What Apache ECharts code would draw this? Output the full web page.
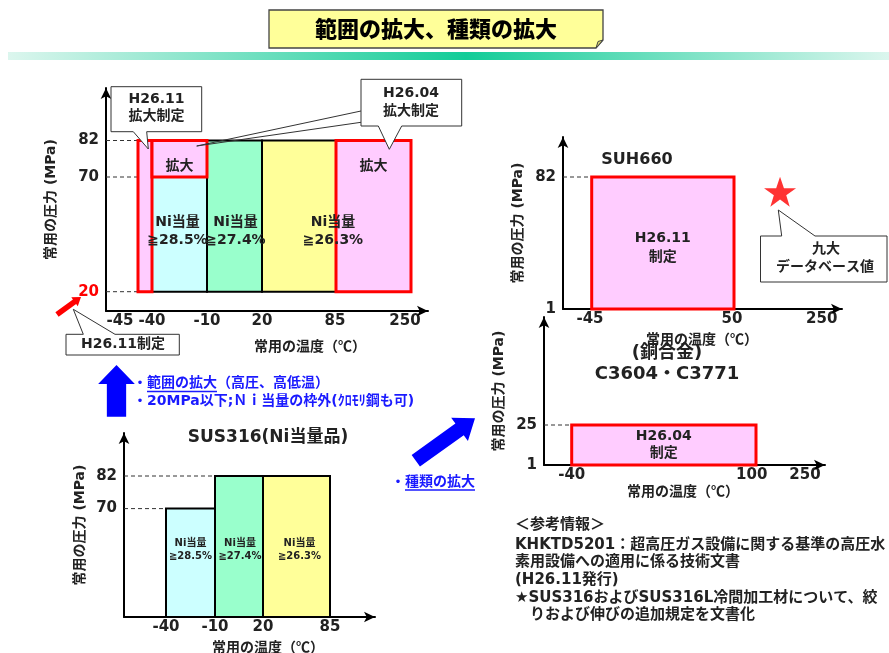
<!DOCTYPE html>
<html><head><meta charset="utf-8">
<script src="https://cdn.jsdelivr.net/npm/echarts@6/dist/echarts.min.js"></script>
<style>html,body{margin:0;padding:0;background:#fff}#c{width:889px;height:653px}</style>
</head><body><div id="c"></div>
<script>
// ================= DATA =================
// Chart A : SUS316 range expansion
const aTempTicks   = [-45, -40, -10, 20, 85, 250];
const aPressTicks  = [20, 70, 82];
const aBoxTempFrom = [-40, -10, 20, -45, -40, 85];
const aBoxTempTo   = [-10, 20, 85, -40, -10, 250];
const aBoxPressFrom= [20, 20, 20, 20, 70, 20];
const aBoxPressTo  = [70, 82, 82, 82, 82, 82];
const aBoxKind     = ['ni1', 'ni2', 'ni3', 'new', 'new', 'new'];
const aBoxLabels   = ['Ni当量\n≧28.5%', 'Ni当量\n≧27.4%', 'Ni当量\n≧26.3%', '', '拡大', '拡大'];
const aGuidePress  = [82, 70, 20];
const aGuideTempTo = [-45, -40, -45];

// Chart B : SUS316 (Ni当量品)
const bTempTicks   = [-40, -10, 20, 85];
const bPressTicks  = [70, 82];
const bBoxTempFrom = [-40, -10, 20];
const bBoxTempTo   = [-10, 20, 85];
const bBoxPressFrom= [0, 0, 0];
const bBoxPressTo  = [70, 82, 82];
const bBoxKind     = ['ni1', 'ni2', 'ni3'];
const bBoxLabels   = ['Ni当量\n≧28.5%', 'Ni当量\n≧27.4%', 'Ni当量\n≧26.3%'];
const bGuidePress  = [82, 70];
const bGuideTempTo = [-10, -40];

// Chart C : SUH660
const cTempTicks   = [-45, 50, 250];
const cPressTicks  = [1, 82];
const cBoxTempFrom = [-45];
const cBoxTempTo   = [50];
const cBoxPressFrom= [1];
const cBoxPressTo  = [82];
const cBoxKind     = ['new'];
const cBoxLabels   = ['H26.11\n制定'];
const cGuidePress  = [82];
const cGuideTempTo = [-45];
const cStarTemp    = [155];
const cStarPress   = [73];

// Chart D : 銅合金 C3604・C3771
const dTempTicks   = [-40, 100, 250];
const dPressTicks  = [1, 25];
const dBoxTempFrom = [-40];
const dBoxTempTo   = [100];
const dBoxPressFrom= [1];
const dBoxPressTo  = [25];
const dBoxKind     = ['new'];
const dBoxLabels   = ['H26.04\n制定'];
const dGuidePress  = [25];
const dGuideTempTo = [-40];

// ================= LAYOUT / STYLE =================
const FONT = "'DejaVu Sans','Noto Sans CJK JP',sans-serif";
const CJK = "'Noto Sans CJK JP','DejaVu Sans',sans-serif";
const TXT = '#222';
const TICK = 15;
const kindStyle = {
  ni1: {fill: '#CCFFFF', stroke: '#000', lw: 2},
  ni2: {fill: '#99FFCC', stroke: '#000', lw: 2},
  ni3: {fill: '#FFFF99', stroke: '#000', lw: 2},
  new: {fill: '#FFCCFF', stroke: '#FF0000', lw: 3}
};
const LAY = {
  A: {grid: {left: 106, top: 88, width: 322, height: 223},
      xVals: aTempTicks, xPos: [32, 46, 101, 156, 230, 305], xLabelPos: [14, 46, 101, 156, 229, 299],
      yVals: aPressTicks, yPos: [19.3, 134, 170.5], yNameGap: 48,
      labelDx: [-2, 1, 34, 0, 0, 0], labelY: [80, 80, 80, null, 145, 145], labelSize: 14, labelLH: 18},
  B: {grid: {left: 124, top: 433, width: 251, height: 184},
      xVals: bTempTicks, xPos: [42, 91, 139, 206], xLabelPos: [42, 91, 139, 206],
      yVals: [0].concat(bPressTicks), yPos: [0, 108.4, 141], yNameGap: 37,
      labelDx: [0, 1, 3], labelY: [67, 67, 67], labelSize: 10, labelLH: 13},
  C: {grid: {left: 563, top: 137, width: 279, height: 172},
      xVals: cTempTicks, xPos: [28.7, 171, 258.7], xLabelPos: [27, 169, 258.7],
      yVals: cPressTicks, yPos: [0, 132], yNameGap: 38,
      labelDx: [0], labelY: [61], labelSize: 14, labelLH: 19},
  D: {grid: {left: 544, top: 317, width: 281, height: 148},
      xVals: dTempTicks, xPos: [27.7, 212, 261], xLabelPos: [27.7, 207.7, 261],
      yVals: dPressTicks, yPos: [0, 40], yNameGap: 37.5,
      labelDx: [0], labelY: [20], labelSize: 14, labelLH: 17}
};

function interp(vals, pos) {
  return function (v) {
    let i = vals.indexOf(v);
    if (i >= 0) return pos[i];
    let k = 0;
    while (k < vals.length - 2 && v > vals[k + 1]) k++;
    if (vals.length < 2) return pos[0];
    return pos[k] + (v - vals[k]) / (vals[k + 1] - vals[k]) * (pos[k + 1] - pos[k]);
  };
}

const chartsDef = [
  {key: 'A', tempTicks: aTempTicks, pressTicks: aPressTicks, from: aBoxTempFrom, to: aBoxTempTo, pf: aBoxPressFrom, pt: aBoxPressTo, kind: aBoxKind, labels: aBoxLabels, gp: aGuidePress, gt: aGuideTempTo, redTicks: [20]},
  {key: 'B', tempTicks: bTempTicks, pressTicks: bPressTicks, from: bBoxTempFrom, to: bBoxTempTo, pf: bBoxPressFrom, pt: bBoxPressTo, kind: bBoxKind, labels: bBoxLabels, gp: bGuidePress, gt: bGuideTempTo, redTicks: []},
  {key: 'C', tempTicks: cTempTicks, pressTicks: cPressTicks, from: cBoxTempFrom, to: cBoxTempTo, pf: cBoxPressFrom, pt: cBoxPressTo, kind: cBoxKind, labels: cBoxLabels, gp: cGuidePress, gt: cGuideTempTo, redTicks: []},
  {key: 'D', tempTicks: dTempTicks, pressTicks: dPressTicks, from: dBoxTempFrom, to: dBoxTempTo, pf: dBoxPressFrom, pt: dBoxPressTo, kind: dBoxKind, labels: dBoxLabels, gp: dGuidePress, gt: dGuideTempTo, redTicks: []}
];

const grids = [], xAxes = [], yAxes = [], series = [];
const maps = {};
chartsDef.forEach((c, gi) => {
  const L = LAY[c.key];
  const mx = interp(L.xVals, L.xPos), my = interp(L.yVals, L.yPos);
  maps[c.key] = {mx, my};
  grids.push(Object.assign({containLabel: false}, L.grid));
  const xLabelPos = L.xLabelPos, xLabelTxt = c.tempTicks.map(String);
  xAxes.push({
    type: 'value', gridIndex: gi, min: 0, max: L.grid.width,
    axisLine: {show: true, symbol: ['none', 'arrow'], symbolSize: [8, 11], lineStyle: {color: '#000', width: 2}},
    axisTick: {show: false}, splitLine: {show: false},
    axisLabel: {
      customValues: xLabelPos, margin: 3,
      formatter: v => { const i = xLabelPos.findIndex(p => Math.abs(p - v) < 0.01); return i >= 0 ? xLabelTxt[i] : ''; },
      fontSize: TICK, fontWeight: 'bold', fontFamily: FONT, color: TXT
    }
  });
  const yLabelPos = c.pressTicks.map(my);
  const yLabelTxt = c.pressTicks.map(String);
  yAxes.push({
    type: 'value', gridIndex: gi, min: 0, max: L.grid.height,
    name: '常用の圧力 (MPa)', nameLocation: 'middle', nameRotate: 90, nameGap: L.yNameGap,
    nameTextStyle: {fontSize: 14, fontWeight: 'bold', fontFamily: FONT, color: TXT},
    axisLine: {show: true, symbol: ['none', 'arrow'], symbolSize: [8, 11], lineStyle: {color: '#000', width: 2}},
    axisTick: {show: false}, splitLine: {show: false},
    axisLabel: {
      customValues: yLabelPos, margin: 7,
      formatter: v => {
        const i = yLabelPos.findIndex(p => Math.abs(p - v) < 0.01);
        if (i < 0) return '';
        return (c.redTicks.indexOf(c.pressTicks[i]) >= 0 ? '{r|' : '{n|') + yLabelTxt[i] + '}';
      },
      rich: {
        n: {fontSize: TICK, fontWeight: 'bold', fontFamily: FONT, color: TXT},
        r: {fontSize: TICK, fontWeight: 'bold', fontFamily: FONT, color: '#FF0000'}
      }
    }
  });
  // guide dashed lines
  series.push({
    type: 'custom', xAxisIndex: gi, yAxisIndex: gi, silent: true, clip: false, z: 2,
    data: c.gp.map((p, i) => [mx(c.gt[i]), my(p)]),
    encode: {x: 0, y: 1},
    renderItem: (params, api) => {
      const a = api.coord([0, api.value(1)]), b = api.coord([api.value(0), api.value(1)]);
      return {type: 'line', shape: {x1: a[0], y1: a[1], x2: b[0], y2: b[1]},
              style: {stroke: '#333', lineWidth: 1, lineDash: [4, 3]}};
    }
  });
  // boxes
  series.push({
    type: 'custom', xAxisIndex: gi, yAxisIndex: gi, silent: true, clip: false, z: 3,
    data: c.from.map((f, i) => [mx(f), mx(c.to[i]), my(c.pf[i]), my(c.pt[i])]),
    encode: {x: [0, 1], y: [2, 3]},
    renderItem: (params, api) => {
      const i = params.dataIndex;
      const p0 = api.coord([api.value(0), api.value(2)]);
      const p1 = api.coord([api.value(1), api.value(3)]);
      const st = kindStyle[c.kind[i]];
      const children = [{
        type: 'rect', z2: st.stroke === '#FF0000' ? 20 : 10,
        shape: {x: p0[0], y: p1[1], width: p1[0] - p0[0], height: p0[1] - p1[1]},
        style: {fill: st.fill, stroke: st.stroke, lineWidth: st.lw}
      }];
      if (c.labels[i]) {
        const cx = (p0[0] + p1[0]) / 2 + (L.labelDx[i] || 0);
        const cy = L.labelY[i] != null ? api.coord([0, L.labelY[i]])[1] : (p0[1] + p1[1]) / 2;
        children.push({
          type: 'text', z2: 100,
          style: {text: c.labels[i], x: cx, y: cy, align: 'center', verticalAlign: 'middle',
                  fill: TXT, font: `bold ${L.labelSize}px ${FONT}`, lineHeight: L.labelLH}
        });
      }
      return {type: 'group', children};
    }
  });
});

// star (九大データベース値)
series.push({
  type: 'scatter', xAxisIndex: 2, yAxisIndex: 2, silent: true, z: 5,
  data: cStarTemp.map((t, i) => [maps.C.mx(t), maps.C.my(cStarPress[i])]),
  symbol: 'path://M50,0 L61.8,35.3 L98.5,35.3 L68.8,57.1 L79.4,92.4 L50,70.6 L20.6,92.4 L31.2,57.1 L1.5,35.3 L38.2,35.3 Z',
  symbolSize: [32, 30], itemStyle: {color: '#FF0000'}
});

// ================= GRAPHIC ANNOTATIONS =================
function txt(x, y, text, size, o) {
  o = o || {};
  return {type: 'text', z: o.z || 60, silent: true,
    style: {x, y, text, fill: o.color || TXT, font: `${o.weight || 'bold'} ${size}px ${o.family || FONT}`,
            align: o.align || 'center', verticalAlign: 'middle', lineHeight: o.lh}};
}
function poly(points, fill, stroke, lw, z) {
  return {type: 'polygon', z: z || 55, silent: true, shape: {points},
          style: {fill: fill, stroke: stroke || null, lineWidth: lw || 0}};
}
function line(x1, y1, x2, y2, color, lw, z) {
  return {type: 'line', z: z || 55, silent: true, shape: {x1, y1, x2, y2}, style: {stroke: color, lineWidth: lw}};
}
function arrowPts(x0, y0, x1, y1, sw, hw, hl) {
  const dx = x1 - x0, dy = y1 - y0, Ln = Math.hypot(dx, dy), ux = dx / Ln, uy = dy / Ln, nx = -uy, ny = ux;
  const bx = x1 - ux * hl, by = y1 - uy * hl;
  return [[x0 + nx * sw / 2, y0 + ny * sw / 2], [bx + nx * sw / 2, by + ny * sw / 2], [bx + nx * hw / 2, by + ny * hw / 2],
          [x1, y1], [bx - nx * hw / 2, by - ny * hw / 2], [bx - nx * sw / 2, by - ny * sw / 2], [x0 - nx * sw / 2, y0 - ny * sw / 2]];
}

const graphic = [
  // header band
  {type: 'rect', z: 1, silent: true, shape: {x: 8, y: 52, width: 881, height: 8},
   style: {fill: {type: 'linear', x: 0, y: 0, x2: 1, y2: 0,
     colorStops: [{offset: 0, color: '#DCF6EE'}, {offset: 0.52, color: '#12CC98'}, {offset: 1, color: '#DCF6EE'}]}}},
  // title box with folded corner
  poly([[269, 10], [603, 10], [603, 40], [596, 48], [269, 48]], '#FFFF99', '#444', 1.3, 10),
  poly([[596, 48], [598, 41.5], [603, 40]], '#D8D870', '#444', 1, 11),
  txt(436, 29, '範囲の拡大、種類の拡大', 22, {family: CJK, color: '#000', z: 12, weight: 900}),

  // callout H26.11 拡大制定 (top-left)
  poly([[111, 86.7], [201.7, 86.7], [201.7, 131.7], [146.7, 131.7], [148.3, 149], [133.3, 131.7], [111, 131.7]], '#fff', '#333', 1, 70),
  txt(156.5, 99.5, 'H26.11', 14, {z: 71}),
  txt(156.5, 116.5, '拡大制定', 14, {z: 71}),

  // callout H26.04 拡大制定
  poly([[361, 79.3], [461.7, 79.3], [461.7, 126], [401.7, 126], [389.3, 149.3], [378.3, 126], [361, 126]], '#fff', '#333', 1, 70),
  line(361, 111, 196.7, 146, '#333', 1, 70),
  line(361, 122.3, 196.7, 146, '#333', 1, 70),
  txt(411, 93.5, 'H26.04', 14, {z: 71}),
  txt(411, 111, '拡大制定', 14, {z: 71}),

  // red arrow to "20" and callout H26.11制定
  poly(arrowPts(57, 314.5, 81, 297, 5.5, 11, 8), '#FF0000', null, 0, 60),
  poly([[66, 334.3], [83.3, 334.3], [73.3, 309.3], [115, 334.3], [179.3, 334.3], [179.3, 355], [66, 355]], '#fff', '#333', 1, 70),
  txt(123, 344.8, 'H26.11制定', 14, {z: 71}),

  // blue up arrow and texts
  poly(arrowPts(116.5, 416.7, 116.5, 365, 19.3, 36.7, 19), '#0000FF', null, 0, 60),
  txt(133, 383.3, '・範囲の拡大（高圧、高低温）', 14, {color: '#1A1AFF', align: 'left'}),
  line(147, 391.5, 217, 391.5, '#1A1AFF', 1.3, 60),
  txt(133, 401, '・20MPa以下;Ｎｉ当量の枠外(ｸﾛﾓﾘ鋼も可)', 14, {color: '#1A1AFF', align: 'left'}),

  // SUS316 title
  txt(268, 438, 'SUS316(Ni当量品)', 17),

  // diagonal blue arrow and text
  poly(arrowPts(415.8, 460.8, 475, 418.3, 14.3, 28.7, 19), '#0000FF', null, 0, 60),
  txt(391, 482, '・種類の拡大', 14, {color: '#1A1AFF', align: 'left'}),
  line(405, 490, 475, 490, '#1A1AFF', 1.3, 60),

  // right charts titles
  txt(637, 160, 'SUH660', 16),
  txt(667, 353.5, '(銅合金)', 18),
  txt(667, 374, 'C3604・C3771', 18),

  // 九大データベース値 callout
  poly([[760.5, 236], [781.7, 236], [778.3, 210], [815, 236], [887, 236], [887, 282], [760.5, 282]], '#fff', '#333', 1, 70),
  txt(826, 249, '九大', 14, {z: 71}),
  txt(825, 267, 'データベース値', 14, {z: 71}),

  // x-axis names
  txt(310, 346, '常用の温度（℃）', 14, {family: CJK}),
  txt(268, 646.5, '常用の温度（℃）', 14, {family: CJK}),
  txt(702, 338.5, '常用の温度（℃）', 14, {family: CJK}),
  txt(683, 491, '常用の温度（℃）', 14, {family: CJK}),

  // reference information
  txt(515, 525, '＜参考情報＞', 15, {align: 'left'}),
  txt(515, 545, 'KHKTD5201：超高圧ガス設備に関する基準の高圧水', 15, {align: 'left'}),
  txt(515, 562, '素用設備への適用に係る技術文書', 15, {align: 'left'}),
  txt(515, 580, '(H26.11発行)', 15, {align: 'left'}),
  txt(515, 598, '★SUS316およびSUS316L冷間加工材について、絞', 15, {align: 'left'}),
  txt(515, 615.5, '　りおよび伸びの追加規定を文書化', 15, {align: 'left'})
];

const chart = echarts.init(document.getElementById('c'), null, {renderer: 'canvas'});
chart.setOption({
  animation: false,
  backgroundColor: '#fff',
  grid: grids, xAxis: xAxes, yAxis: yAxes, series: series, graphic: graphic
});
</script>
</body></html>
